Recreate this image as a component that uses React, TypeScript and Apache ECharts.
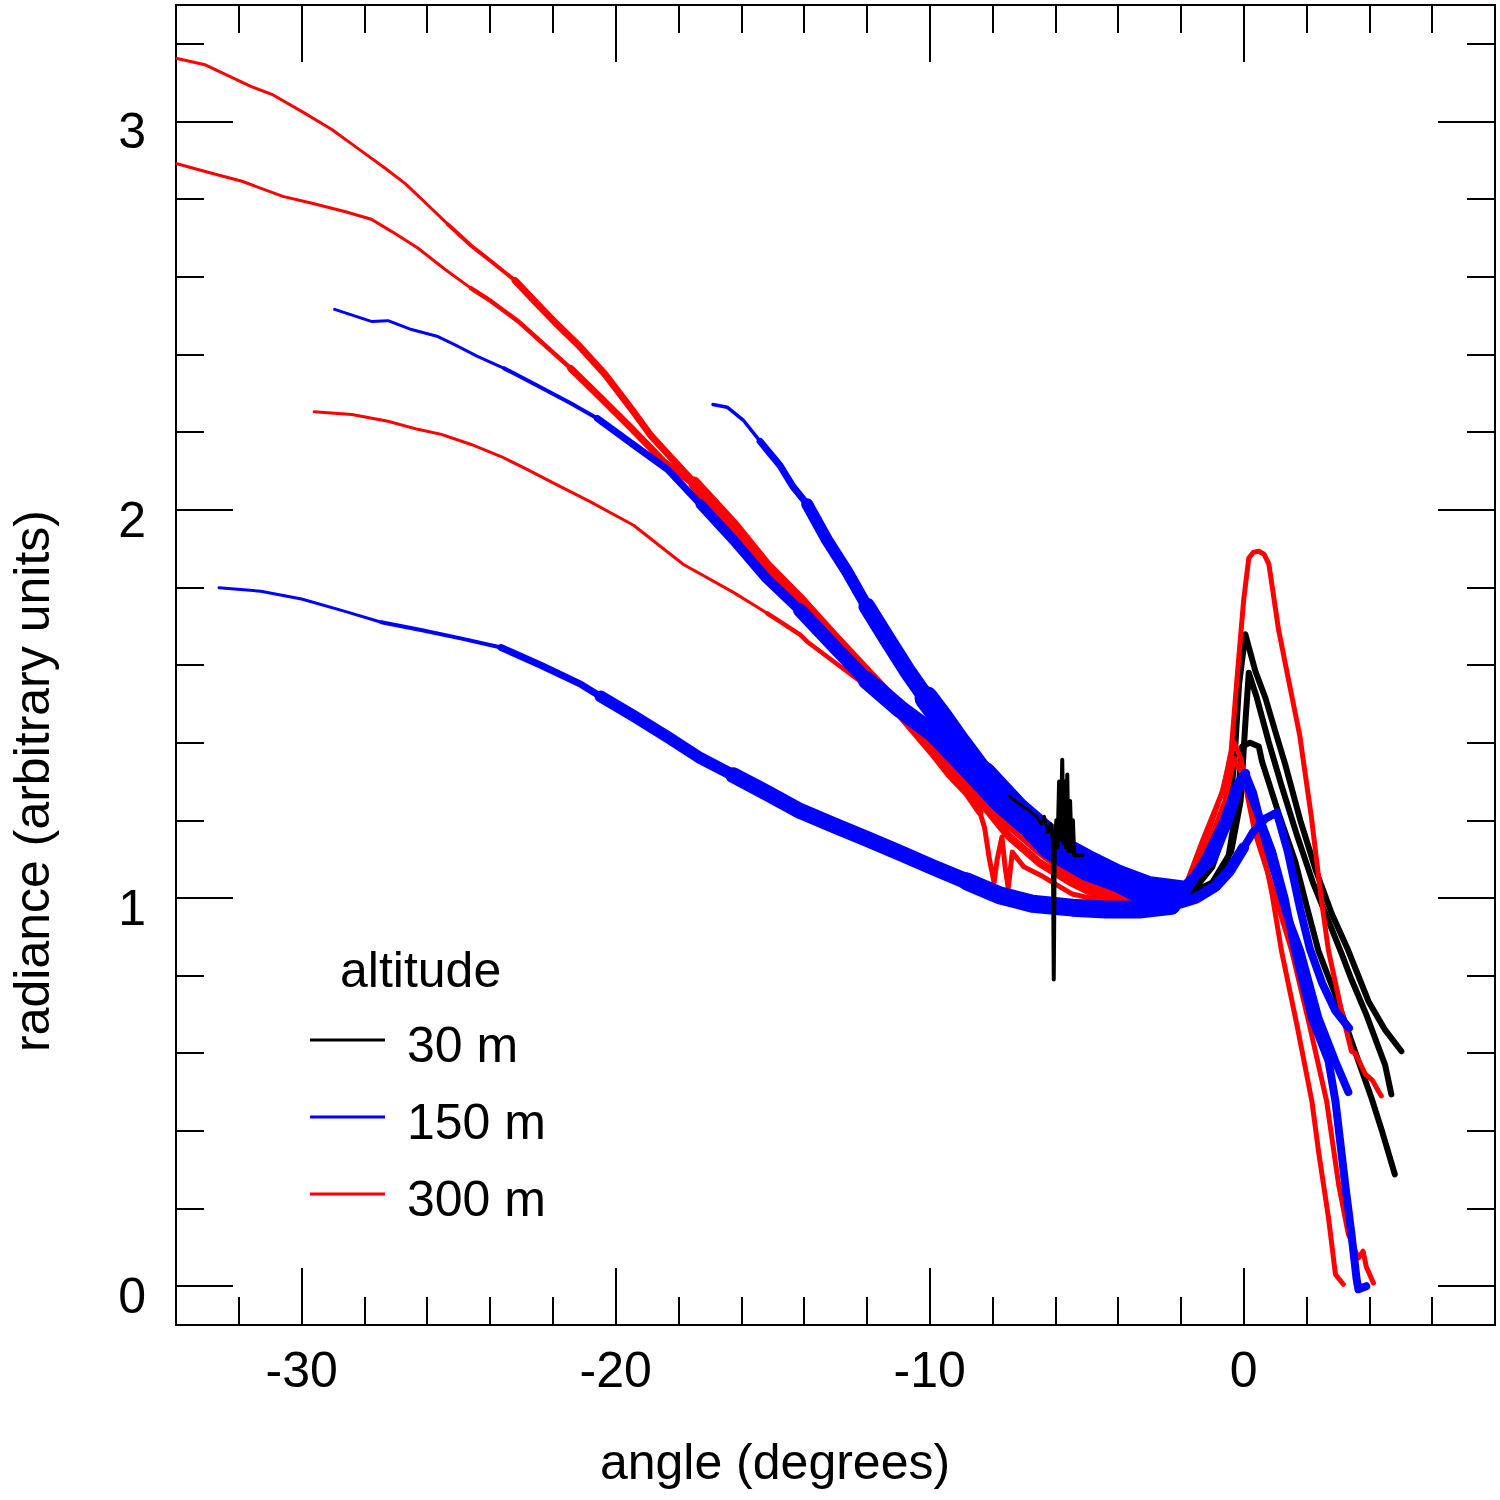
import React, { useEffect, useRef } from "react";
import * as echarts from "echarts";

type Pt = [number, number];

// Axis ticks
const X_MAJOR = [-30, -20, -10, 0];
const X_MINOR = [-32, -28, -26, -24, -22, -18, -16, -14, -12, -8, -6, -4, -2, 2, 4, 6];
const Y_MAJOR = [0, 1, 2, 3];
const Y_MINOR = [0.2, 0.4, 0.6, 0.8, 1.2, 1.4, 1.6, 1.8, 2.2, 2.4, 2.6, 2.8, 3.2];

// 30 m (black)
const BLACK_A: Pt[] = [[-7.46,1.262],[-7.2,1.245],[-6.92,1.23],[-6.6,1.21],[-6.45,1.19],[-6.35,1.21],[-6.25,1.17],[-6.15,1.19],[-6.08,1.15],[-6.05,0.79],[-6.02,1.12],[-5.97,1.2],[-5.93,1.13],[-5.88,1.3],[-5.83,1.15],[-5.78,1.356],[-5.74,1.14],[-5.7,1.3],[-5.66,1.13],[-5.62,1.318],[-5.58,1.12],[-5.53,1.25],[-5.48,1.12],[-5.44,1.2],[-5.4,1.11],[-5.14,1.11],[-4.5,1.06],[-3.5,1.02],[-2.5,1.0],[-1.5,1.03],[-1.0,1.08],[-0.5,1.2],[-0.3,1.35],[-0.15,1.55],[0.05,1.679],[0.37,1.584],[0.69,1.515],[1.0,1.43],[1.32,1.344],[1.8,1.2],[2.3,1.07],[2.8,0.96],[3.3,0.87],[3.97,0.734],[4.5,0.66],[5.02,0.605]];
const BLACK_B: Pt[] = [[-2.0,1.0],[-1.0,1.04],[-0.4,1.12],[-0.1,1.25],[0.05,1.45],[0.16,1.58],[0.4,1.52],[0.8,1.4],[1.2,1.29],[1.7,1.16],[2.2,1.04],[2.7,0.94],[3.1,0.86],[3.43,0.79],[3.9,0.7],[4.29,0.615],[4.5,0.57],[4.7,0.494]];
const BLACK_C: Pt[] = [[-2.0,0.99],[-1.0,1.03],[-0.5,1.1],[-0.2,1.25],[-0.05,1.39],[0.2,1.4],[0.48,1.39],[0.58,1.352],[1.1,1.22],[1.64,1.094],[2.0,0.98],[2.38,0.863],[2.91,0.752],[3.65,0.58],[4.07,0.484],[4.4,0.4],[4.81,0.288]];

// 150 m (blue)
const BLUE_A: Pt[] = [[-32.63,1.799],[-31.3,1.79],[-30.0,1.77],[-28.7,1.74],[-27.46,1.71],[-26.2,1.69],[-24.9,1.668],[-23.65,1.645],[-22.4,1.6],[-21.1,1.55],[-20.48,1.519],[-19.43,1.469],[-18.35,1.415],[-17.3,1.36],[-16.25,1.316],[-15.17,1.27],[-14.13,1.224],[-13.08,1.188],[-12.0,1.152],[-10.95,1.116],[-9.9,1.079],[-8.83,1.043],[-7.78,1.007],[-6.73,0.985],[-5.46,0.975],[-4.4,0.97],[-3.33,0.97],[-2.3,0.98],[-1.5,1.0],[-0.9,1.03],[-0.45,1.07],[0.0,1.13],[0.3,1.17],[0.7,1.205],[1.05,1.22],[1.4,1.12],[1.8,0.97],[2.1,0.87],[2.5,0.78],[2.91,0.71],[3.35,0.665]];
const BLUE_B: Pt[] = [[-28.95,2.516],[-27.78,2.485],[-27.25,2.487],[-26.5,2.464],[-25.66,2.446],[-25.13,2.425],[-24.4,2.395],[-23.55,2.364],[-22.5,2.32],[-21.43,2.274],[-20.58,2.235],[-19.43,2.167],[-18.35,2.104],[-17.3,2.014],[-16.25,1.922],[-15.2,1.823],[-14.13,1.741],[-13.08,1.651],[-12.0,1.56],[-10.95,1.487],[-9.9,1.424],[-8.83,1.334],[-7.78,1.243],[-6.73,1.17],[-6.2,1.125],[-5.0,1.07],[-4.0,1.04],[-3.0,1.0],[-2.0,1.0],[-1.2,1.1],[-0.6,1.2],[-0.2,1.29],[0.05,1.32],[0.3,1.27],[0.58,1.18],[1.0,1.06],[1.4,0.95],[1.8,0.863],[2.38,0.69],[2.91,0.58],[3.33,0.5]];
const BLUE_C: Pt[] = [[-16.9,2.271],[-16.45,2.264],[-15.94,2.231],[-15.4,2.176],[-14.76,2.113],[-14.35,2.059],[-13.9,2.014],[-13.27,1.922],[-12.63,1.841],[-12.0,1.751],[-11.37,1.669],[-10.73,1.587],[-10.1,1.514],[-9.68,1.469],[-9.05,1.397],[-8.3,1.316],[-7.24,1.224],[-6.2,1.152],[-5.0,1.1],[-4.0,1.06],[-3.0,1.03],[-2.0,1.02],[-1.0,1.1],[-0.5,1.2],[-0.15,1.29],[0.0,1.31],[0.3,1.25],[0.9,1.12],[1.3,1.0],[1.64,0.863],[2.17,0.69],[2.7,0.58],[2.92,0.476],[3.23,0.262],[3.43,0.134],[3.59,0.02],[3.65,-0.008],[3.9,0.0]];

// 300 m (red)
const RED_A: Pt[] = [[-33.97,3.162],[-33.07,3.146],[-31.6,3.09],[-30.95,3.07],[-30.0,3.026],[-29.05,2.98],[-28.2,2.93],[-27.35,2.88],[-26.7,2.84],[-26.05,2.79],[-25.34,2.735],[-24.6,2.68],[-23.97,2.64],[-23.2,2.59],[-22.5,2.53],[-21.96,2.485],[-21.2,2.425],[-20.35,2.35],[-19.5,2.26],[-18.87,2.19],[-18.3,2.14],[-17.5,2.07],[-16.25,1.96],[-15.2,1.855],[-14.1,1.765],[-13.1,1.675],[-12.0,1.58],[-10.95,1.49],[-9.9,1.415],[-9.37,1.37],[-8.8,1.31],[-8.3,1.26],[-7.5,1.19],[-6.5,1.12],[-5.5,1.06],[-4.5,1.02],[-3.5,1.0],[-2.5,0.99],[-2.0,1.0],[-1.2,1.12],[-0.6,1.25],[-0.3,1.36],[0.0,1.31],[0.35,1.17],[0.9,1.03],[1.53,0.863],[2.1,0.67],[2.64,0.476],[3.02,0.262],[3.33,0.134],[3.65,0.072],[3.8,0.09],[3.9,0.05],[4.13,0.008]];
const RED_B: Pt[] = [[-33.97,2.891],[-33.07,2.871],[-31.9,2.846],[-30.6,2.807],[-29.7,2.79],[-28.63,2.768],[-27.78,2.748],[-27.14,2.717],[-26.3,2.674],[-25.45,2.62],[-24.6,2.57],[-23.97,2.537],[-23.1,2.485],[-22.27,2.425],[-21.43,2.364],[-20.5,2.29],[-19.5,2.21],[-18.48,2.125],[-17.5,2.065],[-16.25,1.95],[-15.2,1.845],[-14.1,1.755],[-13.1,1.665],[-12.0,1.57],[-10.95,1.48],[-9.9,1.4],[-9.37,1.35],[-8.8,1.29],[-8.3,1.24],[-7.5,1.16],[-6.5,1.09],[-5.5,1.04],[-4.5,1.0],[-3.5,0.98],[-2.5,0.98],[-2.0,0.99],[-1.3,1.13],[-0.7,1.27],[-0.3,1.4],[-0.1,1.36],[0.16,1.267],[0.58,1.138],[0.9,1.01],[1.21,0.86],[1.7,0.67],[2.17,0.476],[2.38,0.348],[2.7,0.175],[2.92,0.03],[3.17,0.005]];
const RED_C: Pt[] = [[-29.6,2.252],[-28.4,2.245],[-27.25,2.228],[-26.3,2.207],[-25.55,2.194],[-24.6,2.168],[-23.65,2.137],[-22.9,2.107],[-21.96,2.068],[-20.8,2.02],[-19.43,1.96],[-17.84,1.859],[-16.25,1.787],[-15.17,1.733],[-14.13,1.678],[-13.9,1.66],[-12.0,1.545],[-10.95,1.47],[-9.9,1.37],[-9.37,1.316],[-8.83,1.27],[-8.4,1.22],[-8.25,1.18],[-8.1,1.1],[-7.95,1.04],[-7.85,1.1],[-7.7,1.157],[-7.6,1.08],[-7.5,1.025],[-7.37,1.118],[-7.2,1.1],[-7.0,1.08],[-6.5,1.06],[-5.46,1.01],[-4.38,0.99],[-3.5,0.975],[-2.5,0.98],[-2.0,1.0],[-1.3,1.15],[-0.65,1.28],[-0.4,1.38],[-0.22,1.56],[0.0,1.77],[0.16,1.875],[0.3,1.89],[0.48,1.893],[0.65,1.885],[0.8,1.86],[1.11,1.69],[1.43,1.56],[1.78,1.42],[2.15,1.21],[2.48,0.99],[2.7,0.863],[3.14,0.7],[3.43,0.605],[3.55,0.6],[3.87,0.546],[4.1,0.53],[4.29,0.502],[4.38,0.49]];

const LEGEND_TITLE = "altitude";
const LEGEND_NAMES = ["30 m", "150 m", "300 m"];
const X_TITLE = "angle (degrees)";
const Y_TITLE = "radiance (arbitrary units)";

const COLORS: Record<string, string> = { "30 m": "#000000", "150 m": "#0000ff", "300 m": "#ff0000" };
const FONT = "'Liberation Sans', Arial, sans-serif";

// Drawing styles: [x from which it applies, stroke width, z]
const CURVES: { name: string; data: Pt[]; widths: [number, number, number][] }[] = [
  { name: "30 m", data: BLACK_A, widths: [[-8, 3, 5], [-6.3, 4, 5], [-5.2, 4, 2], [-1.5, 6, 2]] },
  { name: "30 m", data: BLACK_B, widths: [[-2.5, 6, 2]] },
  { name: "30 m", data: BLACK_C, widths: [[-2.5, 6, 2]] },
  { name: "300 m", data: RED_A, widths: [[-35, 3, 2], [-26, 4, 2], [-23.5, 7, 2], [-17.6, 12, 2], [-8.5, 9, 2], [-2, 5, 2]] },
  { name: "300 m", data: RED_B, widths: [[-35, 3, 2], [-25, 4.5, 2], [-22, 7, 2], [-17.6, 11, 2], [-8.5, 8, 2], [-2, 5, 2]] },
  { name: "300 m", data: RED_C, widths: [[-30, 3, 2], [-16, 4.5, 2], [-12, 7, 2], [-8.5, 5, 2], [-2, 5, 2]] },
  { name: "150 m", data: BLUE_A, widths: [[-33, 3, 2], [-28, 4, 2], [-24, 7, 2], [-21, 12, 2], [-17, 16, 2], [-9, 18, 2], [-2.5, 11, 2], [0, 8, 2]] },
  { name: "150 m", data: BLUE_B, widths: [[-29, 3, 2], [-24, 4, 2], [-21, 7, 2], [-18, 10, 2], [-15, 14, 2], [-12, 18, 2], [-7, 20, 2], [-2.5, 10, 2], [0, 8, 2]] },
  { name: "150 m", data: BLUE_C, widths: [[-17, 3.5, 2], [-15.6, 7, 2], [-14, 12, 2], [-12.5, 17, 2], [-10.5, 24, 2], [-9, 28, 2], [-6.5, 20, 2], [-2.5, 10, 2], [0, 8, 2]] },
];

function splitByWidth(data: Pt[], widths: [number, number, number][]) {
  const bounds: number[] = [0];
  for (let i = 1; i < widths.length; i++) {
    const idx = data.findIndex((p) => p[0] >= widths[i][0]);
    bounds.push(idx < 0 ? data.length - 1 : idx);
  }
  bounds.push(data.length - 1);
  const segs: { data: Pt[]; width: number; z: number }[] = [];
  for (let i = 0; i < widths.length; i++) {
    const a = bounds[i];
    const b = bounds[i + 1];
    if (b > a) segs.push({ data: data.slice(a, b + 1), width: widths[i][1], z: widths[i][2] });
  }
  return segs;
}

export default function App() {
  const ref = useRef<HTMLDivElement>(null);

  useEffect(() => {
    document.body.style.margin = "0";
    if (!ref.current) return;
    const chart = echarts.init(ref.current, null, { renderer: "svg" });

    const series: any[] = [];
    CURVES.forEach((c) => {
      splitByWidth(c.data, c.widths).forEach((s) => {
        series.push({
          type: "line",
          name: c.name,
          data: s.data,
          xAxisIndex: 0,
          yAxisIndex: 0,
          showSymbol: false,
          symbol: "none",
          silent: true,
          lineStyle: { color: COLORS[c.name], width: s.width, join: "round", cap: "round" },
          z: s.z,
        });
      });
    });

    const lineStyle = { color: "#000", width: 2 };
    const mkX = (position: string, ticks: number[], len: number, labels: boolean) => ({
      type: "value",
      min: -34,
      max: 8,
      position,
      gridIndex: 0,
      axisLine: { show: true, onZero: false, lineStyle },
      axisTick: { show: true, inside: true, length: len, customValues: ticks, lineStyle },
      axisLabel: labels
        ? { show: true, customValues: ticks, fontSize: 50, color: "#000", fontFamily: FONT, margin: 20 }
        : { show: false },
      splitLine: { show: false },
    });
    const mkY = (position: string, ticks: number[], len: number, labels: boolean) => ({
      type: "value",
      min: -0.1,
      max: 3.3,
      position,
      gridIndex: 0,
      axisLine: { show: true, onZero: false, lineStyle },
      axisTick: { show: true, inside: true, length: len, customValues: ticks, lineStyle },
      axisLabel: labels
        ? { show: true, customValues: ticks, fontSize: 50, color: "#000", fontFamily: FONT, margin: 30, verticalAlign: "top", lineHeight: 20 }
        : { show: false },
      splitLine: { show: false },
    });

    const legendRowsY = [1045, 1122, 1199];
    const graphic: any[] = [
      {
        type: "text",
        x: 340,
        y: 970,
        style: { text: LEGEND_TITLE, fontSize: 50, fontFamily: FONT, fill: "#000", align: "left", verticalAlign: "middle", textAlign: "left", textVerticalAlign: "middle" },
      },
      {
        type: "text",
        x: 775,
        y: 1462,
        style: { text: X_TITLE, fontSize: 50, fontFamily: FONT, fill: "#000", align: "center", verticalAlign: "middle", textAlign: "center", textVerticalAlign: "middle" },
      },
      {
        type: "text",
        x: 32,
        y: 781,
        rotation: Math.PI / 2,
        style: { text: Y_TITLE, fontSize: 50, fontFamily: FONT, fill: "#000", align: "center", verticalAlign: "middle", textAlign: "center", textVerticalAlign: "middle" },
      },
    ];
    LEGEND_NAMES.forEach((n, i) => {
      graphic.push({
        type: "line",
        shape: { x1: 310, y1: legendRowsY[i] - 5, x2: 385, y2: legendRowsY[i] - 5 },
        style: { stroke: COLORS[n], lineWidth: 3 },
      });
      graphic.push({
        type: "text",
        x: 407,
        y: legendRowsY[i],
        style: { text: n, fontSize: 50, fontFamily: FONT, fill: "#000", align: "left", verticalAlign: "middle", textAlign: "left", textVerticalAlign: "middle" },
      });
    });

    chart.setOption({
      animation: false,
      backgroundColor: "#ffffff",
      grid: { left: 176, right: 5, top: 5, bottom: 175, containLabel: false },
      xAxis: [
        mkX("bottom", X_MAJOR, 57, true),
        mkX("bottom", X_MINOR, 28, false),
        mkX("top", X_MAJOR, 57, false),
        mkX("top", X_MINOR, 28, false),
      ],
      yAxis: [
        mkY("left", Y_MAJOR, 57, true),
        mkY("left", Y_MINOR, 28, false),
        mkY("right", Y_MAJOR, 57, false),
        mkY("right", Y_MINOR, 28, false),
      ],
      series,
      graphic,
    });

    return () => chart.dispose();
  }, []);

  return <div ref={ref} style={{ width: 1500, height: 1500 }} />;
}
